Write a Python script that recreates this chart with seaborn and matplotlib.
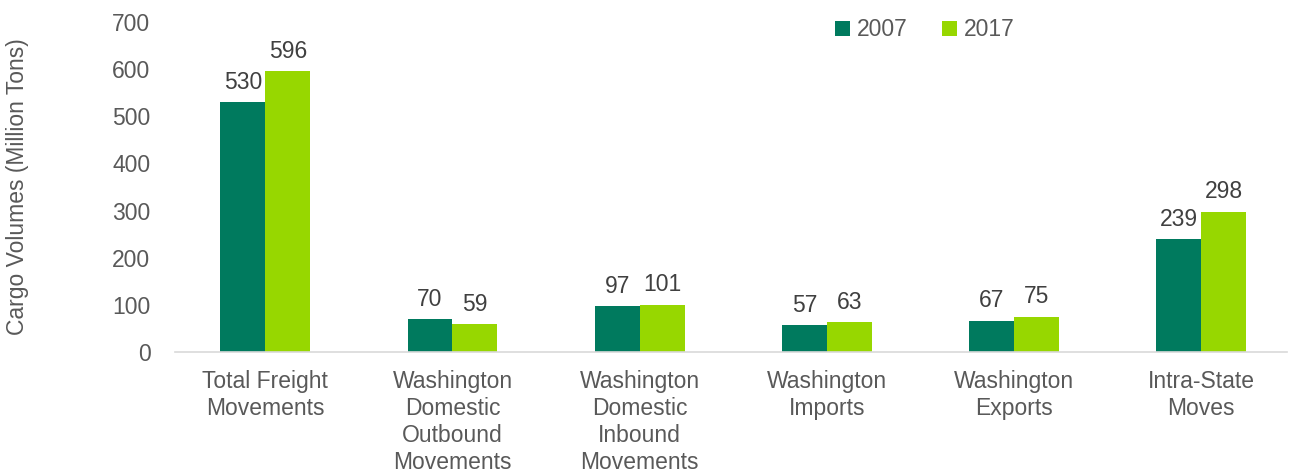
import matplotlib
matplotlib.use("Agg")
import matplotlib.pyplot as plt
import seaborn as sns
import pandas as pd

categories = ["Total Freight\nMovements", "Washington\nDomestic\nOutbound\nMovements",
              "Washington\nDomestic\nInbound\nMovements", "Washington\nImports",
              "Washington\nExports", "Intra-State\nMoves"]
values_2007 = [530, 70, 97, 57, 67, 239]
values_2017 = [596, 59, 101, 63, 75, 298]
years = ["2007", "2017"]
y_ticks = [0, 100, 200, 300, 400, 500, 600, 700]

df = pd.DataFrame({
    "category": categories * 2,
    "value": values_2007 + values_2017,
    "year": [years[0]] * len(categories) + [years[1]] * len(categories),
})

sns.set_theme(style="white")
plt.rcParams["font.family"] = ["Liberation Sans", "DejaVu Sans"]
gray = "#595959"
fs = 16.5

fig = plt.figure(figsize=(12.9, 4.74), dpi=100)
ax = fig.add_axes([0.136, 0.257, 0.862, 0.697])
palette = {"2007": "#007A5E", "2017": "#97D700"}
sns.barplot(data=df, x="category", y="value", hue="year", palette=palette,
            width=0.48, ax=ax, saturation=1, legend=True, linewidth=0)

for cont in ax.containers:
    ax.bar_label(cont, fmt="%d", padding=6, fontsize=fs, color="#404040")

ax.set_ylim(0, 700)
ax.set_yticks(y_ticks)
ax.set_xlim(-0.48, 5.46)
ax.set_xlabel("")
ax.set_ylabel("Cargo Volumes (Million Tons)", fontsize=fs, color=gray, labelpad=60)
ax.tick_params(axis="both", length=0, labelsize=fs, labelcolor=gray)
ax.tick_params(axis="y", pad=18)
ax.tick_params(axis="x", pad=13)
for lbl in ax.get_xticklabels():
    lbl.set_linespacing(1.22)
for s in ["top", "right", "left"]:
    ax.spines[s].set_visible(False)
ax.spines["bottom"].set_color("#d9d9d9")
ax.spines["bottom"].set_linewidth(1.2)

leg = ax.legend(loc="center", bbox_to_anchor=(0.717, 0.937), bbox_transform=fig.transFigure,
                ncol=2, frameon=False, fontsize=fs, handlelength=0.65, handleheight=0.65,
                handletextpad=0.3, columnspacing=1.5)
for t in leg.get_texts():
    t.set_color(gray)

fig.savefig("out.png", dpi=100)
